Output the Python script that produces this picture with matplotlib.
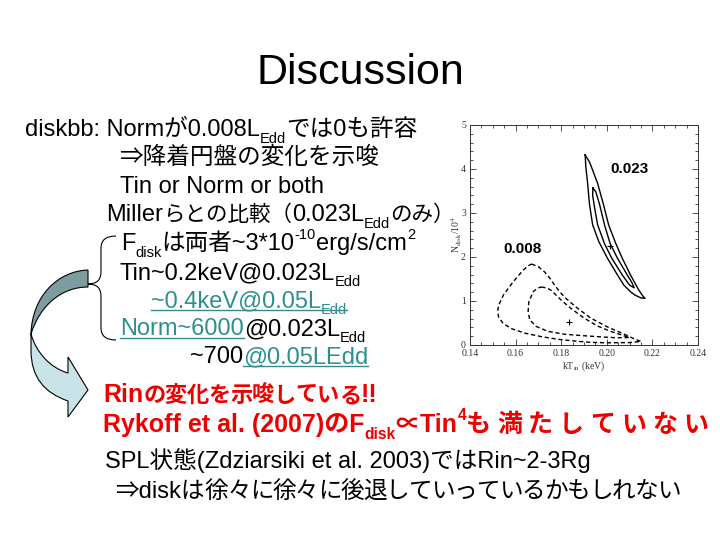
import matplotlib
matplotlib.use("Agg")
import matplotlib.pyplot as plt
from matplotlib.path import Path
from matplotlib.patches import PathPatch

FONTS = ["Liberation Sans", "Noto Sans CJK JP", "DejaVu Sans"]
TEAL = "#2f8f8f"
RED = "#ee0000"
plt.rcParams["mathtext.fontset"] = "stix"

# --- contour data (kT_in [keV], N_disk / 1e4) ---
sol_outer_x = [0.1905, 0.1925, 0.1960, 0.1985, 0.2008, 0.2040, 0.2068, 0.2104, 0.2140, 0.2160, 0.2168,
               0.2150, 0.2125, 0.2104, 0.2075, 0.2047, 0.2003, 0.1965, 0.1938, 0.1924, 0.1916, 0.1908, 0.1905]
sol_outer_y = [4.32, 4.15, 3.67, 3.20, 2.73, 2.30, 1.97, 1.59, 1.25, 1.10, 1.06,
               1.07, 1.13, 1.21, 1.36, 1.59, 1.97, 2.35, 2.73, 3.20, 3.67, 4.05, 4.32]
sol_inner_x = [0.1939, 0.1952, 0.1968, 0.1990, 0.2015, 0.2047, 0.2090, 0.2110, 0.2120,
               0.2100, 0.2068, 0.2022, 0.1990, 0.1960, 0.1947, 0.1938, 0.1939]
sol_inner_y = [3.57, 3.48, 3.20, 2.73, 2.30, 1.97, 1.59, 1.42, 1.30,
               1.36, 1.59, 1.97, 2.30, 2.73, 3.10, 3.40, 3.57]
sol_best = (0.2012, 2.25)

dash_outer_x = [0.1670, 0.1700, 0.1727, 0.1750, 0.1771, 0.1792, 0.1814, 0.1843, 0.1873, 0.1930, 0.2003,
                0.2075, 0.2120, 0.2150, 0.2100, 0.2000, 0.1930, 0.1860, 0.1786, 0.1713, 0.1640, 0.1583,
                0.1545, 0.1525, 0.1522, 0.1527, 0.1547, 0.1590, 0.1633, 0.1655, 0.1670]
dash_outer_y = [1.84, 1.78, 1.66, 1.52, 1.36, 1.22, 1.09, 0.96, 0.83, 0.61, 0.41,
                0.25, 0.14, 0.08, 0.055, 0.05, 0.06, 0.09, 0.13, 0.19, 0.27, 0.37,
                0.49, 0.64, 0.80, 0.92, 1.14, 1.44, 1.70, 1.80, 1.84]
dash_inner_x = [0.1713, 0.1740, 0.1757, 0.1780, 0.1800, 0.1843, 0.1901, 0.1960, 0.2017, 0.2075, 0.2100,
                0.2040, 0.1988, 0.1887, 0.1814, 0.1742, 0.1691, 0.1662, 0.1655, 0.1658, 0.1677, 0.1695, 0.1713]
dash_inner_y = [1.32, 1.29, 1.24, 1.12, 1.02, 0.83, 0.61, 0.43, 0.31, 0.21, 0.17,
                0.165, 0.18, 0.215, 0.245, 0.31, 0.42, 0.57, 0.76, 0.98, 1.21, 1.29, 1.32]
dash_best = (0.1836, 0.53)

x_ticks = [0.14, 0.16, 0.18, 0.20, 0.22, 0.24]
y_ticks = [0, 1, 2, 3, 4, 5]

# --- slide text: (x, baseline y) in pixels, list of (text, kind, colour, underline, tracking, size) ---
BODY = [
    (25, 136, [("diskbb: Normが0.008L", "n"), ("Edd", "sub"), ("では0も許容", "n")]),
    (119, 164, [("⇒降着円盤の変化を示唆", "n")]),
    (120, 193, [("Tin or Norm or both", "n")]),
    (106, 221, [("Miller", "n"), ("らとの比較（", "n", None, False, 0, 15.5), ("0.023L", "n"),
                ("Edd", "sub"), ("のみ）", "n", None, False, 0, 15.5)]),
    (121, 250, [("F", "n"), ("disk", "sub"), ("は両者~3*10", "n"), ("-10", "sup"),
                ("erg/s/cm", "n"), ("2", "sup")]),
    (120, 279, [("Tin~0.2keV@0.023L", "n"), ("Edd", "sub")]),
    (151, 307, [("~0.4keV@0.05L", "n", TEAL, True), ("Edd", "sub", TEAL, True)]),
    (120, 335, [("Norm~6000", "n", TEAL, True), ("@0.023L", "n"), ("Edd", "sub")]),
    (190, 363, [("~700", "n"), ("@0.05LEdd", "n", TEAL, True)]),
]
RED_LINES = [
    (103, 402, [("Rin", "n"), ("の変化を示唆している", "n", None, False, -0.5, 16), ("!!", "n")]),
    (103, 432, [("Rykoff et al. (2007)のF", "n"), ("disk", "sub"), ("∝Tin", "n"), ("4", "sup"),
                ("も満たしていない", "n", None, False, 6)]),
]
FOOT = [
    (105, 468, [("SPL状態(Zdziarsiki et al. 2003)ではRin~2-3Rg", "n")]),
    (115, 498, [("⇒diskは", "n"), ("徐々に徐々に後退していっているかもしれない", "n", None, False, -1)]),
]

fig = plt.figure(figsize=(7.2, 5.4), dpi=100)
fig.patch.set_facecolor("white")
renderer = fig.canvas.get_renderer()

over = fig.add_axes([0, 0, 1, 1])
over.set_xlim(0, 720)
over.set_ylim(540, 0)
over.axis("off")


def put_text(x, y, text, size, col, weight):
    t = over.text(x, y, text, fontsize=size, color=col, weight=weight,
                  family=FONTS, ha="left", va="baseline")
    return t.get_window_extent(renderer).width


def put_line(x, y, parts, size, color="black", weight="normal"):
    px = 100 / 72
    for p in parts:
        text, kind = p[0], p[1]
        col = p[2] if len(p) > 2 and p[2] else color
        under = len(p) > 3 and p[3]
        track = p[4] if len(p) > 4 else 0
        base = p[5] if len(p) > 5 else size
        s = base * 0.62 if kind in ("sub", "sup") else base
        dy = {"sub": 0.28 * size * px, "sup": -0.48 * size * px}.get(kind, 0)
        x0 = x
        if track:
            for ch in text:
                x += put_text(x, y + dy, ch, s, col, weight) + track
        else:
            x += put_text(x, y + dy, text, s, col, weight)
        if under:
            over.plot([x0, x], [y + 3, y + 3], color=col, lw=1)


over.text(360, 84, "Discussion", fontsize=31, family=FONTS, ha="center", va="baseline")
for x, y, parts in BODY:
    put_line(x, y, parts, 17)
for x, y, parts in RED_LINES:
    put_line(x, y, parts, 18, color=RED, weight="bold")
for x, y, parts in FOOT:
    put_line(x, y, parts, 17)

# curly brace
brace = Path([(116, 236), (101, 236), (101, 248), (101, 272), (101, 284), (88, 284),
              (101, 284), (101, 296), (101, 328), (101, 340), (116, 340)],
             [Path.MOVETO, Path.CURVE3, Path.CURVE3, Path.LINETO, Path.CURVE3, Path.CURVE3,
              Path.CURVE3, Path.CURVE3, Path.LINETO, Path.CURVE3, Path.CURVE3])
over.add_patch(PathPatch(brace, fc="none", ec="black", lw=0.8))

# curved block arrow (back part dark, front part light)
back = Path([(88, 270), (58, 271), (32, 296), (31, 334), (40, 305), (62, 287), (88, 287), (88, 270)],
            [Path.MOVETO, Path.CURVE4, Path.CURVE4, Path.CURVE4, Path.CURVE4, Path.CURVE4, Path.CURVE4,
             Path.CLOSEPOLY])
front = Path([(31, 334), (36, 352), (50, 368), (68, 373), (68, 357), (88, 390), (68, 417), (68, 401),
              (45, 393), (31, 378), (31, 350), (31, 334)],
             [Path.MOVETO, Path.CURVE4, Path.CURVE4, Path.CURVE4, Path.LINETO, Path.LINETO, Path.LINETO,
              Path.LINETO, Path.CURVE4, Path.CURVE4, Path.CURVE4, Path.CLOSEPOLY])
over.add_patch(PathPatch(front, fc="#c8e4e8", ec="black", lw=0.8))
over.add_patch(PathPatch(back, fc="#7d9c9e", ec="black", lw=0.8))

# --- inset contour plot ---
ax = fig.add_axes([470 / 720, 1 - 345 / 540, 228 / 720, 220 / 540])
ax.plot(sol_outer_x, sol_outer_y, color="black", lw=1.0)
ax.plot(sol_inner_x, sol_inner_y, color="black", lw=1.0)
ax.plot(dash_outer_x, dash_outer_y, color="black", lw=1.0, ls=(0, (3, 2)))
ax.plot(dash_inner_x, dash_inner_y, color="black", lw=1.0, ls=(0, (3, 2)))
ax.plot(*sol_best, marker="+", color="black", ms=4, mew=0.8)
ax.plot(*dash_best, marker="+", color="black", ms=4, mew=0.8)
ax.text(0.210, 4.0, "0.023", fontsize=11, weight="bold", family=FONTS, ha="center", va="center")
ax.text(0.1632, 2.18, "0.008", fontsize=11, weight="bold", family=FONTS, ha="center", va="center")

ax.set_xlim(0.14, 0.24)
ax.set_ylim(0, 5)
ax.set_xticks(x_ticks)
ax.set_xticklabels([f"{v:.2f}" for v in x_ticks])
ax.set_yticks(y_ticks)
ax.set_xticks([0.14 + 0.005 * i for i in range(21)], minor=True)
ax.set_yticks([0.2 * i for i in range(26)], minor=True)
ax.tick_params(which="both", direction="in", top=True, right=True, width=0.6, colors="#333333",
               labelsize=7, pad=3)
ax.tick_params(which="major", length=4)
ax.tick_params(which="minor", length=2)
for lab in ax.get_xticklabels() + ax.get_yticklabels():
    lab.set_family("Liberation Serif")
for sp in ax.spines.values():
    sp.set_linewidth(0.7)
    sp.set_color("#333333")
ax.set_xlabel("kT$_{\\rm in}$ (keV)", fontsize=7, family="Liberation Serif", labelpad=1, color="#333333")
ax.set_ylabel("N$_{\\rm disk}$/10$^4$", fontsize=7, family="Liberation Serif", labelpad=-2.5, color="#333333")

fig.savefig("out.png", dpi=100)
